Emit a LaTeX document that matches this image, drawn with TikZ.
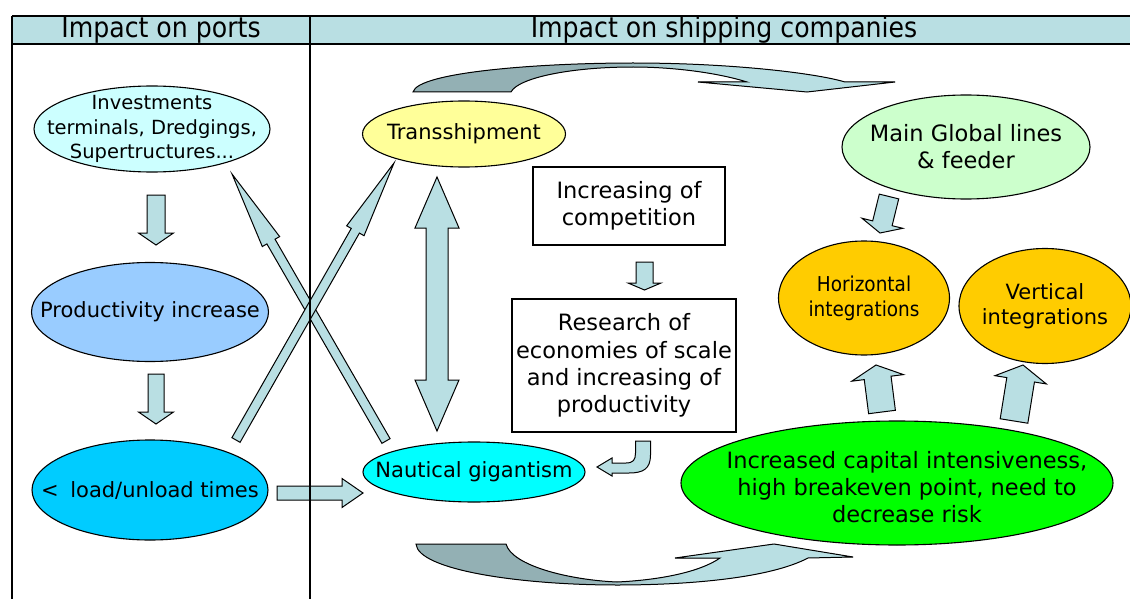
\documentclass[tikz,border=0pt]{standalone}
\usepackage{fontspec}
\setmainfont{DejaVu Sans}
\newfontfamily\narrowsans[FakeStretch=0.9]{DejaVu Sans}
\usetikzlibrary{shapes.geometric,calc}

\definecolor{arrowblue}{HTML}{B9DFE3}
\definecolor{curvedark}{HTML}{93B0B4}
\definecolor{invcol}{HTML}{CCFFFF}
\definecolor{prodcol}{HTML}{99CCFF}
\definecolor{loadcol}{HTML}{00CCFF}
\definecolor{transcol}{HTML}{FFFF99}
\definecolor{nautcol}{HTML}{00FFFF}
\definecolor{maincol}{HTML}{CCFFCC}
\definecolor{integcol}{HTML}{FFCC00}
\definecolor{capcol}{HTML}{00FF00}

\pgfdeclarehorizontalshading{curvedshade}{100bp}{color(0bp)=(curvedark); color(44bp)=(curvedark); color(56bp)=(arrowblue); color(100bp)=(arrowblue)}

% straight block arrow: [options]{tail}{tip}{shaft half width}{head half width}{head length}
\newcommand{\blockarrow}[6][]{%
  \path ($(#3)!#6!(#2)$) coordinate (hb);
  \filldraw[barrow,#1] ($(#2)!#4!90:(#3)$) -- ($(hb)!#4!90:(#3)$) -- ($(hb)!#5!90:(#3)$)
    -- (#3) -- ($(hb)!#5!-90:(#3)$) -- ($(hb)!#4!-90:(#3)$) -- ($(#2)!#4!-90:(#3)$) -- cycle;
}

\begin{document}
\begin{tikzpicture}[x=1pt,y=-1pt,
  ell/.style n args={2}{ellipse, draw, line width=1.1pt, inner sep=-90pt,
    minimum width=#1, minimum height=#2, align=center},
  txtbox/.style n args={2}{rectangle, draw, line width=1.2pt, fill=white, inner sep=0pt,
    minimum width=#1, minimum height=#2, align=center},
  barrow/.style={fill=arrowblue, draw=black, line width=1pt, line join=miter},
  curved/.style={shading=curvedshade, draw=black, line width=1pt},
  hdr/.style={font=\narrowsans\fontsize{28}{30}\selectfont, inner sep=0pt},
  body/.style={font=\fontsize{21}{25.5}\selectfont},
  big/.style={font=\fontsize{22.5}{27.2}\selectfont}
]
\useasboundingbox (0,0) rectangle (1130,599);
\fill[white] (0,0) rectangle (1130,599);

% header band
\fill[arrowblue] (12,16) rectangle (1136,44);
\node[hdr] (hports) at (161,30) {Impact on ports};
\node[hdr] (hship) at (724,30) {Impact on shipping companies};

% ports column
\node[ell={236}{86}, fill=invcol, font=\fontsize{19.5}{24.5}\selectfont] (inv) at (152,129)
  {Investments\\terminals, Dredgings,\\Supertructures...};
\node[ell={237}{99}, fill=prodcol, body] (prod) at (150,312) {Productivity increase};
\node[ell={236}{100}, fill=loadcol, body] (load) at (150,490) {<\hspace{0.55em}load/unload times};

% shipping companies column
\node[ell={203}{66}, fill=transcol, body] (trans) at (464,134) {Transshipment};
\node[ell={222}{60}, fill=nautcol, body] (naut) at (474,472) {Nautical gigantism};
\node[ell={248}{104}, fill=maincol, big] (main) at (966,147) {Main Global lines\\\& feeder};
\node[ell={171}{114}, fill=integcol, font=\narrowsans\fontsize{20.5}{25}\selectfont] (horiz) at (864,298)
  {Horizontal\\integrations};
\node[ell={172}{115}, fill=integcol, body] (vert) at (1045,306) {Vertical\\integrations};
\node[ell={432}{124}, fill=capcol, big] (cap) at (897,483)
  {\hspace*{20pt}\raisebox{-7pt}[\height][\depth]{\begin{tabular}{@{}c@{}}Increased capital intensiveness,\\high breakeven point, need to\\decrease risk\end{tabular}}};

\node[txtbox={192}{78}, big] (comp) at (629,206) {Increasing of\\competition};
\node[txtbox={224}{133}, big] (res) at (624,365.5)
  {Research of\\economies of scale\\and increasing of\\productivity};

% arrow end points
\coordinate (invS) at (156,195);   \coordinate (prodN) at (156,245);
\coordinate (prodS) at (156,374);  \coordinate (loadN) at (156,424);
\coordinate (loadE) at (277,493);  \coordinate (nautW) at (363,493);
\coordinate (nautNW) at (386,441); \coordinate (invSE) at (232,174);
\coordinate (loadNE) at (236,440); \coordinate (transSW) at (394,163);
\coordinate (mainS) at (889,196.5); \coordinate (horizN) at (880,233);
\coordinate (capH) at (882,412);   \coordinate (horizS) at (876,365);
\coordinate (capV) at (1014,421);  \coordinate (vertS) at (1023,365);
\coordinate (compS) at (644.5,262); \coordinate (resN) at (644.5,290);
\coordinate (transS) at (437,177); \coordinate (nautN) at (437,431);
\coordinate (resS) at (643,441);   \coordinate (nautE) at (597,467);

% straight block arrows
\blockarrow{invS}{prodN}{9pt}{17.5pt}{12pt}
\blockarrow{prodS}{loadN}{8pt}{17.5pt}{12pt}
\blockarrow{loadE}{nautW}{7pt}{14.5pt}{21pt}
\blockarrow{nautNW}{invSE}{4.7pt}{10pt}{78pt}
\blockarrow{loadNE}{transSW}{4.7pt}{10pt}{78pt}
\blockarrow{mainS}{horizN}{10pt}{21pt}{10pt}
\blockarrow{capH}{horizS}{13.5pt}{26pt}{13pt}
\blockarrow{capV}{vertS}{14pt}{26pt}{15pt}
\blockarrow{compS}{resN}{8.5pt}{16.5pt}{7pt}

% double arrow between transshipment and gigantism
\filldraw[barrow] (transS) -- ($(transS)+(22,51)$) -- ($(transS)+(11,51)$) -- ($(nautN)+(11,-51)$)
  -- ($(nautN)+(22,-51)$) -- (nautN) -- ($(nautN)+(-22,-51)$) -- ($(nautN)+(-11,-51)$)
  -- ($(transS)+(-11,51)$) -- ($(transS)+(-22,51)$) -- cycle;

% bent arrow from research box to gigantism
\filldraw[barrow] ($(resS)+(-7.5,0)$) -- ($(resS)+(7.5,0)$) -- ($(resS)+(7.5,14)$)
  .. controls ($(resS)+(7.5,28)$) and ($(resS)+(0,32)$) .. ($(resS)+(-14,32)$)
  -- ($(resS)+(-31,32)$) -- ($(resS)+(-31,35)$) -- (nautE) -- ($(resS)+(-31,17)$)
  -- ($(resS)+(-31,22)$) -- ($(resS)+(-17,22)$)
  .. controls ($(resS)+(-10,22)$) and ($(resS)+(-7.5,19)$) .. ($(resS)+(-7.5,12)$) -- cycle;

% curved arrow over the top: transshipment to main lines
\filldraw[curved] (413,92) .. controls (418,72) and (540,63) .. (633,63)
  .. controls (730,63) and (815,73) .. (845,82) -- (895,82) -- (807,92) -- (698,82) -- (747,82)
  .. controls (715,72) and (670,67) .. (633,67)
  .. controls (570,67) and (518,78) .. (511,92) -- cycle;

% curved arrow along the bottom: gigantism to capital intensiveness
\filldraw[curved] (416,544) -- (506,544) .. controls (512,566) and (570,580) .. (617,582)
  .. controls (660,580) and (700,572) .. (720,558) -- (675,558) -- (774,544) -- (853,557) -- (808,558)
  .. controls (770,578) and (690,585) .. (617,585)
  .. controls (520,585) and (418,570) .. (416,544) -- cycle;

% table rules
\draw[line width=1.3pt] (12,16) -- (1136,16);
\draw[line width=1.3pt] (12,44) -- (1136,44);
\draw[line width=1.3pt] (12,16) -- (12,600);
\draw[line width=1.3pt] (310,16) -- (310,600);
\end{tikzpicture}
\end{document}
